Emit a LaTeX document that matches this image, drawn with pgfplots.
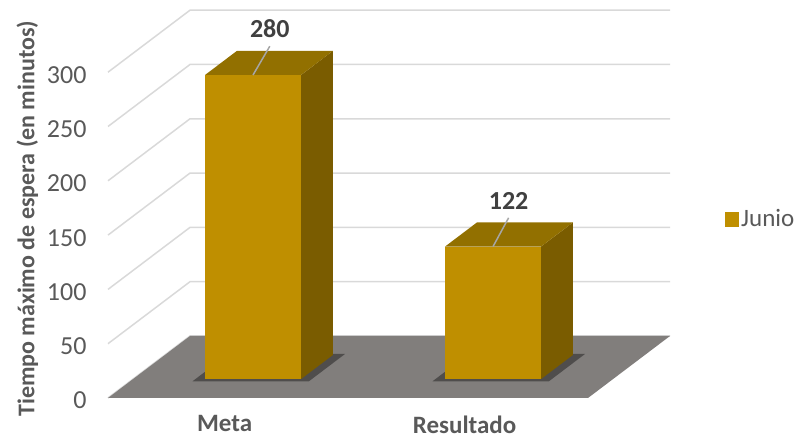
\documentclass[border=0pt]{standalone}
\usepackage{pgfplots}
\pgfplotsset{compat=1.18}
\usepackage{fontspec}
\setmainfont{Carlito}
\definecolor{barfront}{HTML}{BF8F00}
\definecolor{bartop}{HTML}{927000}
\definecolor{barside}{HTML}{7A5C00}
\definecolor{floorgray}{HTML}{817E7C}
\definecolor{gridgray}{HTML}{D9D9D9}
\definecolor{txt}{HTML}{595959}
\definecolor{lbl}{HTML}{404040}
\begin{document}
\begin{tikzpicture}
\path[use as bounding box] (-114pt,-20pt) rectangle (285pt,199pt);
\begin{axis}[
  at={(0,0)}, anchor=origin,
  x={(120pt,0pt)}, y={(41pt,31pt)}, z={(0pt,0.543pt)},
  xmin=-0.5, xmax=1.5, ymin=0, ymax=1, zmin=0, zmax=300,
  axis lines=left, axis line style={draw=none}, tick style={draw=none},
  clip=false,
  xtick={0,1}, xticklabels={Meta,Resultado},
  ytick=\empty,
  ztick={0,50,...,300},
  /pgf/number format/assume math mode=true,
  tick label style={font=\fontsize{13}{15}\selectfont, text=txt},
  x tick label style={font=\bfseries\fontsize{12.5}{14}\selectfont, anchor=north, yshift=-4pt},
  z tick label style={anchor=east, xshift=-5.5pt},
  zlabel={Tiempo máximo de espera (en minutos)},
  every axis z label/.style={at={(axis cs:-0.762,0,165)}, anchor=south, rotate=90,
    font=\bfseries\fontsize{12}{14}\selectfont, text=txt},
  legend style={at={(axis cs:2.07,0,164)}, anchor=west, draw=none, fill=none,
    font=\fontsize{12.5}{14}\selectfont, text=txt, inner sep=0pt,
    nodes={inner sep=1pt}},
  legend image code/.code={\fill[#1] (0pt,-3.7pt) rectangle (7pt,3.7pt);},
]
% walls: back wall and side wall gridlines
\addplot3[gridgray, line width=0.75pt, forget plot] coordinates {(-0.5,0,0) (-0.5,1,0) (1.5,1,0)};
\addplot3[gridgray, line width=0.75pt, forget plot] coordinates {(-0.5,0,50) (-0.5,1,50) (1.5,1,50)};
\addplot3[gridgray, line width=0.75pt, forget plot] coordinates {(-0.5,0,100) (-0.5,1,100) (1.5,1,100)};
\addplot3[gridgray, line width=0.75pt, forget plot] coordinates {(-0.5,0,150) (-0.5,1,150) (1.5,1,150)};
\addplot3[gridgray, line width=0.75pt, forget plot] coordinates {(-0.5,0,200) (-0.5,1,200) (1.5,1,200)};
\addplot3[gridgray, line width=0.75pt, forget plot] coordinates {(-0.5,0,250) (-0.5,1,250) (1.5,1,250)};
\addplot3[gridgray, line width=0.75pt, forget plot] coordinates {(-0.5,0,300) (-0.5,1,300) (1.5,1,300)};
% floor
\addplot3[fill=floorgray, draw=none, forget plot] coordinates {(-0.5,0,0) (1.5,0,0) (1.5,1,0) (-0.5,1,0)} -- cycle;
% shadows
\addplot3[fill=black!85, fill opacity=0.55, draw=none, forget plot] coordinates {(-0.24,0.27,0) (0.245,0.27,0) (0.245,0.71,0) (-0.24,0.71,0)} -- cycle;
\addplot3[fill=black!85, fill opacity=0.55, draw=none, forget plot] coordinates {(0.76,0.27,0) (1.245,0.27,0) (1.245,0.71,0) (0.76,0.71,0)} -- cycle;
% Meta = 280
\addplot3[fill=barside, draw=none, forget plot] coordinates {(0.2,0.305,0) (0.2,0.695,0) (0.2,0.695,280) (0.2,0.305,280)} -- cycle;
\addplot3[fill=bartop, draw=none, forget plot] coordinates {(-0.2,0.305,280) (0.2,0.305,280) (0.2,0.695,280) (-0.2,0.695,280)} -- cycle;
\addplot3[fill=barfront, draw=none] coordinates {(-0.2,0.305,0) (0.2,0.305,0) (0.2,0.305,280) (-0.2,0.305,280)} -- cycle;
\addlegendentry{Junio}
% Resultado = 122
\addplot3[fill=barside, draw=none, forget plot] coordinates {(1.2,0.305,0) (1.2,0.695,0) (1.2,0.695,122) (1.2,0.305,122)} -- cycle;
\addplot3[fill=bartop, draw=none, forget plot] coordinates {(0.8,0.305,122) (1.2,0.305,122) (1.2,0.695,122) (0.8,0.695,122)} -- cycle;
\addplot3[fill=barfront, draw=none, forget plot] coordinates {(0.8,0.305,0) (1.2,0.305,0) (1.2,0.305,122) (0.8,0.305,122)} -- cycle;
% leader lines and data labels
\addplot3[color={rgb,255:red,166;green,166;blue,166}, line width=0.75pt, forget plot] coordinates {(0,0.305,280) (0.07,0.305,306.5)};
\addplot3[color={rgb,255:red,166;green,166;blue,166}, line width=0.75pt, forget plot] coordinates {(1,0.305,122) (1.065,0.305,148.5)};
\addplot3[draw=none, forget plot, point meta=explicit, nodes near coords,
  every node near coord/.style={anchor=south, font=\bfseries\fontsize{13}{15}\selectfont, text=lbl, inner sep=2pt, yshift=2pt},
  nodes near coords={\pgfmathprintnumber{\pgfplotspointmeta}}]
  coordinates {(0.07,0.305,306.5) [280] (1.065,0.305,148.5) [122]};
\end{axis}
\end{tikzpicture}
\end{document}
